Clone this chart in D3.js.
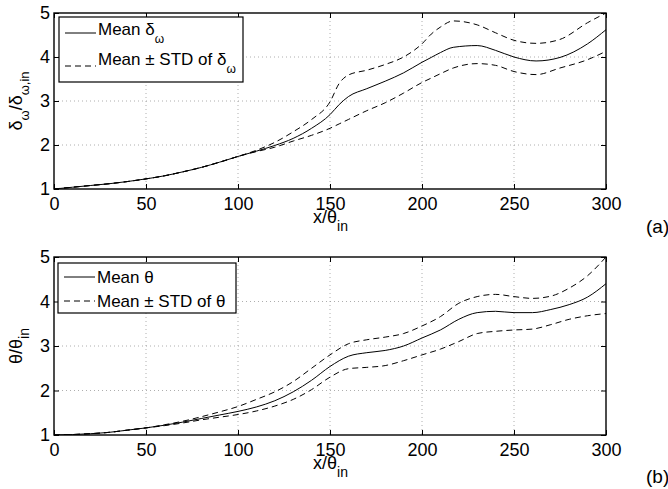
<!DOCTYPE html>
<html>
<head>
<meta charset="utf-8">
<script src="https://cdn.jsdelivr.net/npm/d3@7"></script>
<style>
  body { margin: 0; background: #fff; }
  text { font-family: "Liberation Sans", Arial, sans-serif; }
  .grid line { stroke: #999; stroke-dasharray: 1,3; stroke-width: 0.8; }
</style>
</head>
<body>
<svg id="chart" width="668" height="489"></svg>
<script>
// panel (a): delta_omega
var xA = [0,10,20,30,40,50,60,70,80,90,100,110,120,130,140,150,155,160,170,180,190,200,205,210,217,230,240,250,262,275,290,300];
var meanA = [1.00,1.04,1.08,1.12,1.17,1.23,1.30,1.39,1.49,1.61,1.74,1.86,1.99,2.15,2.38,2.69,2.92,3.10,3.28,3.45,3.64,3.88,3.99,4.10,4.22,4.26,4.15,4.00,3.91,3.99,4.30,4.62];
var upperA = [1.00,1.04,1.08,1.12,1.17,1.23,1.30,1.39,1.49,1.61,1.74,1.88,2.06,2.30,2.58,2.98,3.40,3.59,3.70,3.83,4.00,4.30,4.52,4.68,4.82,4.73,4.55,4.38,4.31,4.40,4.78,5.00];
var lowerA = [1.00,1.04,1.08,1.12,1.17,1.23,1.30,1.39,1.49,1.61,1.74,1.85,1.95,2.09,2.22,2.38,2.48,2.58,2.78,2.96,3.18,3.42,3.52,3.62,3.75,3.85,3.81,3.67,3.60,3.75,3.94,4.13];

// panel (b): theta
var xB = [0,10,20,30,40,50,60,70,80,90,100,110,120,130,140,150,160,170,180,190,200,210,220,230,240,250,260,270,280,290,300];
var meanB = [1.00,1.01,1.03,1.06,1.11,1.16,1.22,1.29,1.37,1.45,1.53,1.63,1.77,1.97,2.23,2.54,2.77,2.85,2.90,3.00,3.18,3.36,3.60,3.75,3.78,3.75,3.75,3.82,3.93,4.10,4.40];
var upperB = [1.00,1.01,1.03,1.06,1.11,1.16,1.23,1.31,1.41,1.52,1.64,1.80,1.97,2.20,2.50,2.80,3.05,3.14,3.20,3.28,3.45,3.66,3.96,4.11,4.16,4.11,4.07,4.12,4.30,4.58,5.00];
var lowerB = [1.00,1.01,1.03,1.06,1.11,1.16,1.21,1.27,1.34,1.40,1.46,1.54,1.65,1.80,2.02,2.30,2.49,2.52,2.56,2.67,2.80,2.93,3.10,3.28,3.33,3.36,3.38,3.48,3.60,3.68,3.73];

var xTicks = [0,50,100,150,200,250,300];
var yTicks = [1,2,3,4,5];

var svg = d3.select("#chart");
var left = 54, right = 606;

function panel(opts) {
  var top = opts.top, bottom = opts.bottom;
  var x = d3.scaleLinear().domain([0,300]).range([left, right]);
  var y = d3.scaleLinear().domain([1,5]).range([bottom, top]);
  var g = svg.append("g");

  var clipId = "clip" + opts.id;
  svg.append("clipPath").attr("id", clipId)
    .append("rect").attr("x", left).attr("y", top)
    .attr("width", right - left).attr("height", bottom - top);

  // grid
  var grid = g.append("g").attr("class", "grid");
  grid.selectAll(".gx").data(xTicks.slice(1, -1)).enter().append("line")
    .attr("x1", function(d) { return x(d); }).attr("x2", function(d) { return x(d); })
    .attr("y1", top).attr("y2", bottom);
  grid.selectAll(".gy").data(yTicks.slice(1, -1)).enter().append("line")
    .attr("y1", function(d) { return y(d); }).attr("y2", function(d) { return y(d); })
    .attr("x1", left).attr("x2", right);

  // axes (ticks pointing inward)
  var xAxis = g.append("g").attr("transform", "translate(0," + bottom + ")")
    .call(d3.axisBottom(x).tickValues(xTicks).tickSizeInner(-5).tickSizeOuter(0).tickFormat(d3.format("d")));
  g.append("g").attr("transform", "translate(0," + top + ")")
    .call(d3.axisTop(x).tickValues(xTicks).tickSizeInner(-5).tickSizeOuter(0).tickFormat(""));
  var yAxis = g.append("g").attr("transform", "translate(" + left + ",0)")
    .call(d3.axisLeft(y).tickValues(yTicks).tickSizeInner(-5).tickSizeOuter(0).tickPadding(4).tickFormat(d3.format("d")));
  g.append("g").attr("transform", "translate(" + right + ",0)")
    .call(d3.axisRight(y).tickValues(yTicks).tickSizeInner(-5).tickSizeOuter(0).tickFormat(""));
  g.selectAll(".domain").remove();
  g.selectAll(".tick line").attr("stroke", "#000");
  g.selectAll(".tick text").attr("font-size", 18).attr("font-family", "Liberation Sans, Arial, sans-serif").attr("fill", "#000");
  xAxis.selectAll(".tick text").attr("y", 21).attr("dy", null);

  g.append("rect").attr("x", left).attr("y", top)
    .attr("width", right - left).attr("height", bottom - top)
    .attr("fill", "none").attr("stroke", "#000").attr("stroke-width", 1.4);

  // curves
  var line = d3.line()
    .x(function(d) { return x(d[0]); })
    .y(function(d) { return y(d[1]); })
    .curve(d3.curveMonotoneX);
  var series = [
    {v: opts.mean, dash: null},
    {v: opts.upper, dash: "6,4"},
    {v: opts.lower, dash: "6,4"}
  ];
  g.append("g").attr("clip-path", "url(#" + clipId + ")")
    .selectAll("path").data(series).enter().append("path")
    .attr("d", function(s) { return line(opts.xs.map(function(xv, i) { return [xv, s.v[i]]; })); })
    .attr("fill", "none").attr("stroke", "#000").attr("stroke-width", 1)
    .attr("stroke-dasharray", function(s) { return s.dash; });

  // x label
  var xl = g.append("text").attr("x", 313).attr("y", bottom + 34).attr("font-size", 18);
  xl.append("tspan").text("x/θ");
  xl.append("tspan").attr("dy", 8).attr("font-size", 14).text("in");

  // y label
  var yl = g.append("text")
    .attr("transform", "translate(" + 22 + "," + ((top + bottom) / 2) + ") rotate(-90)")
    .attr("text-anchor", "middle").attr("font-size", 18);
  opts.ylabel(yl);

  // legend
  var lg = g.append("g");
  lg.append("rect").attr("x", opts.legend.x).attr("y", opts.legend.y)
    .attr("width", opts.legend.w).attr("height", opts.legend.h)
    .attr("fill", "#fff").attr("stroke", "#000").attr("stroke-width", 1.2);
  opts.legend.rows.forEach(function(r) {
    lg.append("line").attr("x1", opts.legend.x + 6).attr("x2", opts.legend.x + 37)
      .attr("y1", r.ly).attr("y2", r.ly)
      .attr("stroke", "#000").attr("stroke-dasharray", r.dash);
    var t = lg.append("text").attr("x", opts.legend.x + 39).attr("y", r.ty).attr("font-size", 17);
    r.label(t);
  });

  svg.append("text").attr("x", 646).attr("y", bottom + opts.tagDy)
    .attr("font-family", "Liberation Serif, Times New Roman, serif")
    .attr("font-size", 19).text(opts.tag);
}

panel({
  id: "a", tag: "(a)", tagDy: 44, top: 13, bottom: 189,
  xs: xA, mean: meanA, upper: upperA, lower: lowerA,
  ylabel: function(t) {
    t.append("tspan").text("δ");
    t.append("tspan").attr("dy", 7).attr("font-size", 13).text("ω");
    t.append("tspan").attr("dy", -7).text("/δ");
    t.append("tspan").attr("dy", 7).attr("font-size", 13).text("ω,in");
  },
  legend: {x: 59, y: 17, w: 184, h: 65, rows: [
    {ly: 33, ty: 35, dash: null, label: function(t) {
      t.append("tspan").text("Mean δ");
      t.append("tspan").attr("dy", 8).attr("font-size", 12).text("ω");
    }},
    {ly: 66, ty: 65, dash: "6,4", label: function(t) {
      t.append("tspan").text("Mean ± STD of δ");
      t.append("tspan").attr("dy", 8).attr("font-size", 12).text("ω");
    }}
  ]}
});

panel({
  id: "b", tag: "(b)", tagDy: 48, top: 257, bottom: 435,
  xs: xB, mean: meanB, upper: upperB, lower: lowerB,
  ylabel: function(t) {
    t.append("tspan").text("θ/θ");
    t.append("tspan").attr("dy", 7).attr("font-size", 14).text("in");
  },
  legend: {x: 58, y: 263, w: 178, h: 50, rows: [
    {ly: 277, ty: 283, dash: null, label: function(t) { t.text("Mean θ"); }},
    {ly: 301, ty: 307, dash: "6,4", label: function(t) { t.text("Mean ± STD of θ"); }}
  ]}
});
</script>
</body>
</html>
